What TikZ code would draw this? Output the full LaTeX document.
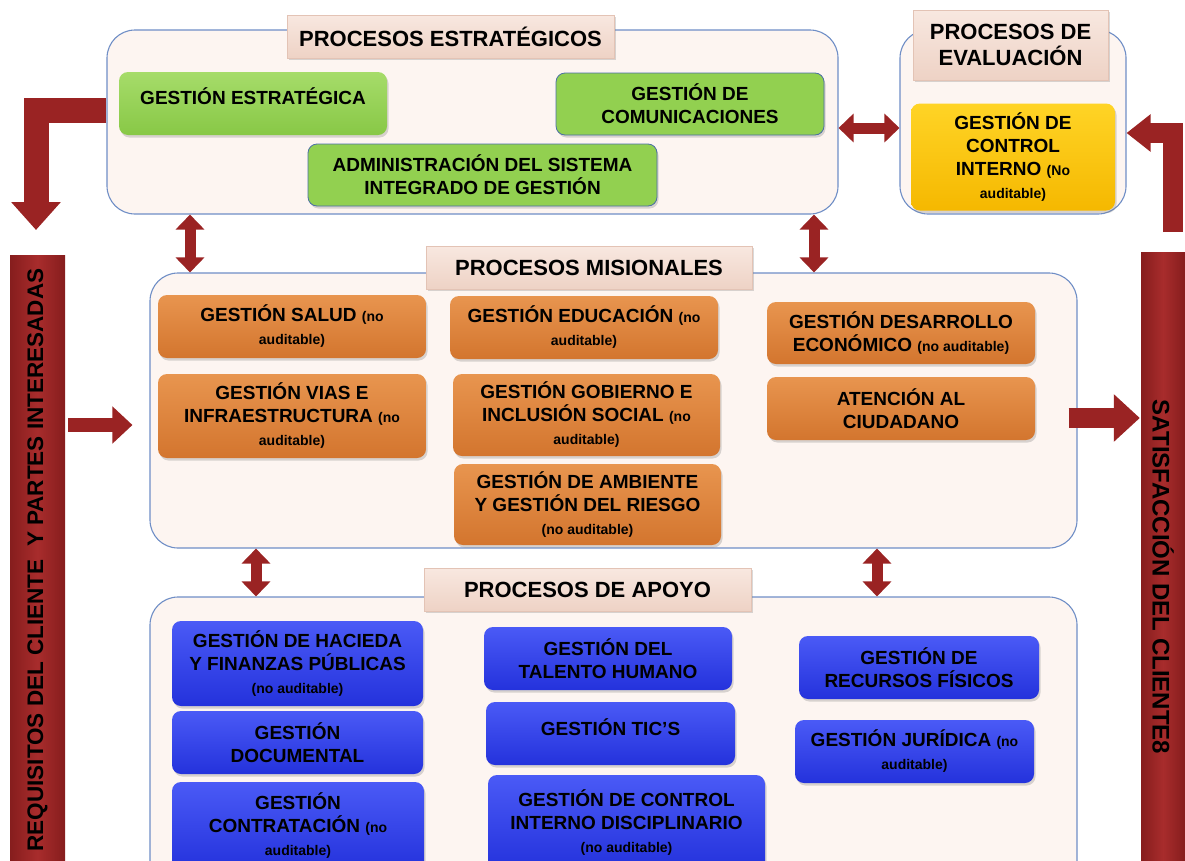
\documentclass[tikz,border=0pt]{standalone}
\usepackage{fontspec}
\setmainfont{Liberation Sans}
\usetikzlibrary{arrows.meta,shadows,calc}
\definecolor{contF}{HTML}{FDF5F1}
\definecolor{contB}{HTML}{6F8EC6}
\definecolor{ttlT}{HTML}{F8E8E0}
\definecolor{ttlB}{HTML}{EED2C5}
\definecolor{ttlD}{HTML}{E3C3B5}
\definecolor{grT}{HTML}{A6DC6A}
\definecolor{grB}{HTML}{88C846}
\definecolor{grF}{HTML}{92D050}
\definecolor{grD}{HTML}{4A6FA5}
\definecolor{yeT}{HTML}{FFD426}
\definecolor{yeB}{HTML}{F5B800}
\definecolor{orT}{HTML}{E8954F}
\definecolor{orB}{HTML}{D3752E}
\definecolor{blT}{HTML}{4A5AF6}
\definecolor{blB}{HTML}{2432DC}
\definecolor{arrR}{HTML}{9A2323}
\definecolor{barD}{HTML}{861D1D}
\definecolor{barL}{HTML}{A82C2C}
\newcommand{\smalltxt}[1]{{\fontsize{14}{16}\selectfont #1}}
\begin{document}
\begin{tikzpicture}[x=1pt,y=-1pt,
  cont/.style={draw=contB, line width=1.1pt, fill=contF, rounded corners=28pt},
  ttl/.style={draw=ttlD, line width=0.6pt, top color=ttlT, bottom color=ttlB,
     font=\bfseries\fontsize{22}{26}\selectfont, align=center,
     drop shadow={opacity=0.3,shadow xshift=2pt,shadow yshift=-2pt}},
  proc/.style={rounded corners=9pt, align=center, inner sep=2pt,
     font=\bfseries\fontsize{19}{23}\selectfont,
     drop shadow={opacity=0.3,shadow xshift=1.5pt,shadow yshift=-2.5pt}},
  grbox/.style={proc, top color=grT, bottom color=grB},
  grflat/.style={proc, fill=grF, draw=grD, line width=0.8pt},
  yebox/.style={proc, top color=yeT, bottom color=yeB},
  orbox/.style={proc, top color=orT, bottom color=orB},
  blbox/.style={proc, top color=blT, bottom color=blB},
  bar/.style={left color=barD, right color=barD, middle color=barL},
  bartxt/.style={font=\bfseries\fontsize{22.5}{26}\selectfont, text=black},
  blk/.style={draw=arrR, line join=miter},
  dbl/.style={draw=arrR, line width=11pt,
     {Triangle[length=15pt,width=28pt]}-{Triangle[length=15pt,width=28pt]}}
]
\useasboundingbox (0,0) rectangle (1185,860);
\clip (0,0) rectangle (1185,860);

% containers
\node[cont, minimum width=731pt, minimum height=184pt] (strat) at (472.5,122) {};
\node[cont, minimum width=226pt, minimum height=184pt] (eval) at (1013,122) {};
\node[cont, minimum width=927pt, minimum height=275pt] (mis) at (613.5,410.5) {};
\node[cont, minimum width=927pt, minimum height=303pt] (apo) at (613.5,748.5) {};

% titles
\node[ttl, minimum width=327pt, minimum height=43pt] (tStrat) at (450.5,36.5) {PROCESOS ESTRATÉGICOS};
\node[ttl, minimum width=195pt, minimum height=70pt] (tEval) at (1010.5,45) {PROCESOS DE\\EVALUACIÓN};
\node[ttl, minimum width=326pt, minimum height=43pt] (tMis) at (589,267.5) {PROCESOS MISIONALES};
\node[ttl, minimum width=327pt, minimum height=43pt] (tApo) at (587.5,589.5) {PROCESOS DE APOYO};

% strategic boxes
\node[grbox, minimum width=268pt, minimum height=63pt, text depth=14pt] (gEst) at (253,103.5) {GESTIÓN ESTRATÉGICA};
\node[grflat, minimum width=268pt, minimum height=62pt] (gCom) at (690,104) {GESTIÓN DE\\COMUNICACIONES};
\node[grflat, minimum width=349pt, minimum height=62pt] (gAdm) at (482.5,175) {ADMINISTRACIÓN DEL SISTEMA\\INTEGRADO DE GESTIÓN};
\node[yebox, minimum width=204pt, minimum height=107pt] (gCI) at (1013,157) {GESTIÓN DE\\CONTROL\\INTERNO \smalltxt{(No}\\\smalltxt{auditable)}};

% misional boxes
\node[orbox, minimum width=268pt, minimum height=63pt] (oSal) at (292,326.5) {GESTIÓN SALUD \smalltxt{(no}\\\smalltxt{auditable)}};
\node[orbox, minimum width=268pt, minimum height=63pt] (oEdu) at (584,327.5) {GESTIÓN EDUCACIÓN \smalltxt{(no}\\\smalltxt{auditable)}};
\node[orbox, minimum width=268pt, minimum height=84pt] (oVia) at (292,416) {GESTIÓN VIAS E\\INFRAESTRUCTURA \smalltxt{(no}\\\smalltxt{auditable)}};
\node[orbox, minimum width=267pt, minimum height=82pt] (oGob) at (586.5,415) {GESTIÓN GOBIERNO E\\INCLUSIÓN SOCIAL \smalltxt{(no}\\\smalltxt{auditable)}};
\node[orbox, minimum width=267pt, minimum height=81pt] (oAmb) at (587.5,504.5) {GESTIÓN DE AMBIENTE\\Y GESTIÓN DEL RIESGO\\\smalltxt{(no auditable)}};
\node[orbox, minimum width=268pt, minimum height=62pt] (oDes) at (901,333) {GESTIÓN DESARROLLO\\ECONÓMICO \smalltxt{(no auditable)}};
\node[orbox, minimum width=268pt, minimum height=63pt] (oAte) at (901,408.5) {ATENCIÓN AL\\CIUDADANO};

% apoyo boxes
\node[blbox, minimum width=251pt, minimum height=85pt] (bHac) at (297.5,663.5) {GESTIÓN DE HACIEDA\\Y FINANZAS PÚBLICAS\\\smalltxt{(no auditable)}};
\node[blbox, minimum width=251pt, minimum height=63pt] (bDoc) at (297.5,742.5) {GESTIÓN\\DOCUMENTAL};
\node[blbox, minimum width=252pt, minimum height=88pt] (bCon) at (298,826) {GESTIÓN\\CONTRATACIÓN \smalltxt{(no}\\\smalltxt{auditable)}};
\node[blbox, minimum width=248pt, minimum height=63pt] (bTal) at (608,658.5) {GESTIÓN DEL\\TALENTO HUMANO};
\node[blbox, minimum width=249pt, minimum height=63pt, text depth=12pt] (bTic) at (610.5,733.5) {GESTIÓN TIC’S};
\node[blbox, minimum width=277pt, minimum height=95pt] (bDis) at (626.5,822.5) {GESTIÓN DE CONTROL\\INTERNO DISCIPLINARIO\\\smalltxt{(no auditable)}};
\node[blbox, minimum width=240pt, minimum height=63pt] (bRec) at (919,667.5) {GESTIÓN DE\\RECURSOS FÍSICOS};
\node[blbox, minimum width=239pt, minimum height=63pt] (bJur) at (914.5,751.5) {GESTIÓN JURÍDICA \smalltxt{(no}\\\smalltxt{auditable)}};

% side bars
\node[bar, minimum width=55pt, minimum height=615pt, inner sep=0pt] (lbar) at (37.5,562.5) {};
\node[bartxt, rotate=90] (lbarTxt) at (37.5,560) {REQUISITOS DEL CLIENTE\ \ Y PARTES INTERESADAS};
\node[bar, minimum width=44pt, minimum height=618pt, inner sep=0pt] (rbar) at (1163,561) {};
\node[bartxt, font=\bfseries\fontsize{24}{26}\selectfont, rotate=-90] (rbarTxt) at (1163,577) {SATISFACCIÓN DEL CLIENTE8};

% helper coordinates
\coordinate (yA) at (0,110);
\coordinate (tlEnd) at (36,230);
\coordinate (yB) at (0,133);
\coordinate (trEnd) at (1173,232);
\coordinate (yC) at (0,128);
\coordinate (xA) at (190,0);
\coordinate (xB) at (814,0);
\coordinate (xC) at (256,0);
\coordinate (xD) at (877,0);
\coordinate (yD) at (0,425);
\coordinate (yE) at (0,418);

% L-shaped arrows
\draw[blk, line width=25pt, -{Triangle[length=28pt,width=48pt]}] (strat.west |- yA) -| (tlEnd);
\draw[blk, line width=20pt, -{Triangle[length=24pt,width=36pt]}] (trEnd) |- (eval.east |- yB);

% double arrows
\draw[dbl] (strat.east |- yC) -- (eval.west |- yC);
\draw[dbl] (strat.south -| xA) -- (mis.north -| xA);
\draw[dbl] (strat.south -| xB) -- (mis.north -| xB);
\draw[dbl] (mis.south -| xC) -- (apo.north -| xC);
\draw[dbl] (mis.south -| xD) -- (apo.north -| xD);

% input / output arrows
\draw[blk, line width=14pt, -{Triangle[length=20pt,width=36pt]}, shorten <=3pt, shorten >=17pt] (lbar.east |- yD) -- (mis.west |- yD);
\draw[blk, line width=20pt, -{Triangle[length=26pt,width=46pt]}, shorten <=-9pt, shorten >=1pt] (mis.east |- yE) -- (rbar.west |- yE);
\end{tikzpicture}
\end{document}
